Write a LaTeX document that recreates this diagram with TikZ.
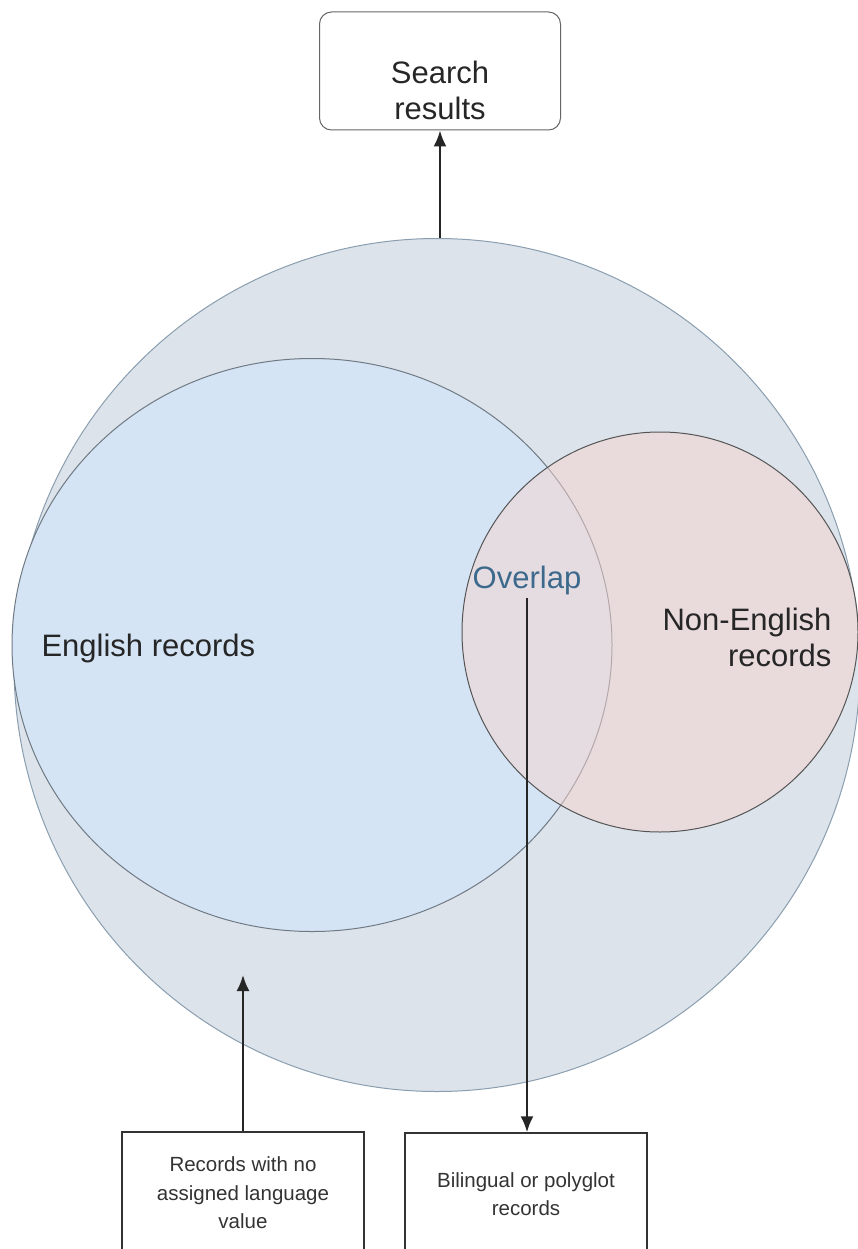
\documentclass[tikz,border=0pt]{standalone}
\usepackage{fontspec}
\setmainfont{Liberation Sans}
\usetikzlibrary{shapes.geometric,arrows.meta}

\definecolor{allfill}{HTML}{DCE3EA}
\definecolor{alldraw}{HTML}{8A9EB0}
\definecolor{engfill}{HTML}{D4E4F4}
\definecolor{engdraw}{HTML}{707A84}
\definecolor{nonfill}{HTML}{F7D5D0}
\definecolor{nondraw}{HTML}{555555}
\definecolor{ovtext}{HTML}{3D6A8C}
\definecolor{boxdraw}{HTML}{333333}

\begin{document}
\begin{tikzpicture}[x=1pt, y=-1pt,
    bigtext/.style={font=\fontsize{31}{36}\selectfont, text=black!85},
    smalltext/.style={font=\fontsize{20.5}{28.5}\selectfont, text=black!80},
    setshape/.style={ellipse, inner sep=0pt},
    labelbox/.style={draw=boxdraw, line width=1.5pt, minimum width=242pt, minimum height=122pt, align=center, smalltext},
    flow/.style={-{Latex[length=16pt,width=13pt]}, line width=2pt, black!85}]
    \useasboundingbox (0,0) rectangle (858,1249);

    % Alle Treffer
    \node[setshape, draw=alldraw, fill=allfill, line width=1pt, minimum width=846pt, minimum height=853pt] (all) at (437,665) {};
    % Englisch
    \node[setshape, draw=engdraw, fill=engfill, line width=1pt, minimum width=600pt, minimum height=573pt] (eng) at (312,645) {};
    % Nicht-Englisch
    \node[setshape, draw=nondraw, fill=nonfill, fill opacity=0.5, line width=1pt, minimum width=396pt, minimum height=400pt] (non) at (660,632) {};

    \node[bigtext, anchor=west] (englbl) at (38,648) {English records};
    \node[bigtext, anchor=east, align=right] (nonlbl) at (835,637) {Non-English\\records};
    \node[bigtext, text=ovtext] (overlap) at (527,580) {Overlap};

    % Kasten oben
    \node[draw=black!60, line width=1pt, rounded corners=12pt, minimum width=241pt, minimum height=118pt, align=center, bigtext] (search) at (440,71) {\rule{0pt}{61pt}Search\\results};

    % Kaesten unten
    \node[labelbox] (nolang) at (243,1193) {Records with no\\assigned language\\value};
    \node[labelbox] (bili) at (526,1194) {Bilingual or polyglot\\records};

    \coordinate (nolangtip) at (243,975);

    \draw[flow] (search.south |- all.north) -- (search.south);
    \draw[flow] (nolang.north) -- (nolangtip);
    \draw[flow] (overlap.south) -- (overlap.south |- bili.north);
\end{tikzpicture}
\end{document}
